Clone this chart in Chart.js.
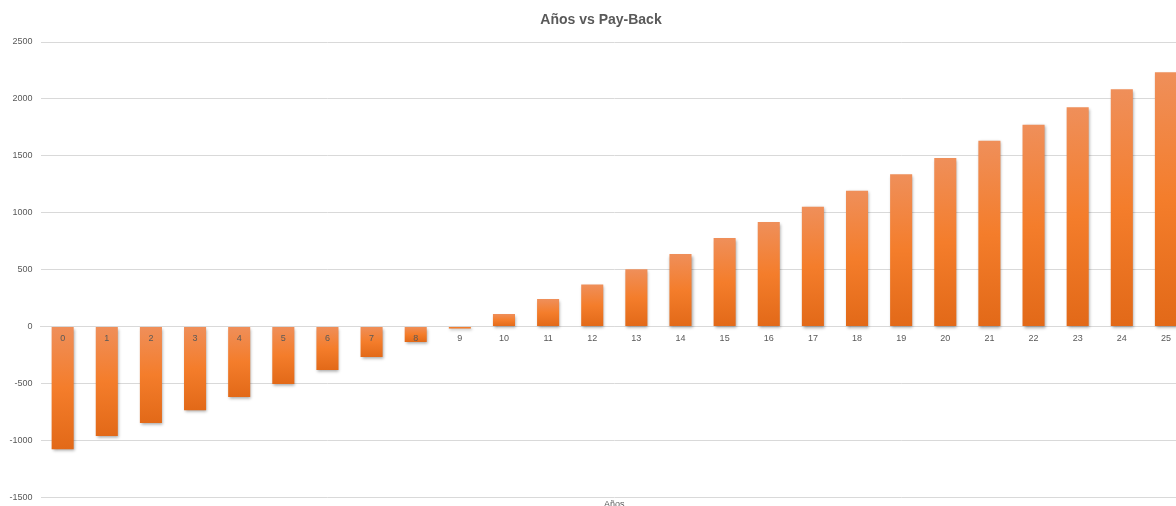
<!DOCTYPE html>
<html lang="es">
<head>
<meta charset="utf-8">
<title>Años vs Pay-Back</title>
<script src="https://cdn.jsdelivr.net/npm/chart.js@4/dist/chart.umd.min.js"></script>
<style>
  html, body { margin: 0; padding: 0; background: #fff; overflow: hidden; }
  #wrap { position: relative; width: 1202px; height: 516px; }
</style>
</head>
<body>
<div id="wrap"><canvas id="paybackChart"></canvas></div>
<script>
// ————— Data —————
const years   = ['0','1','2','3','4','5','6','7','8','9','10','11','12',
                 '13','14','15','16','17','18','19','20','21','22','23','24','25'];
const payback = [-1078, -963, -849, -735, -620, -506, -383, -269, -137, -17,
                 109, 241, 370, 502, 637, 777, 918, 1052, 1193, 1337,
                 1480, 1633, 1773, 1926, 2084, 2234];
const yTicks  = [-1500, -1000, -500, 0, 500, 1000, 1500, 2000, 2500];

// ————— Style —————
const textGrey = '#595959';
const gridGrey = '#d9d9d9';
const fontFam  = '"Liberation Sans", Arial, sans-serif';

// ————— Helpers —————
// vertical gradient per bar: light at the top edge, darker at the bottom
function barFill(ctx) {
  const chart = ctx.chart;
  if (!chart.chartArea || ctx.type !== 'data') return '#f47d2c';
  const y = chart.scales.y;
  const v = ctx.raw;
  const top = y.getPixelForValue(Math.max(v, 0));
  const bottom = y.getPixelForValue(Math.min(v, 0));
  if (bottom - top < 1) return '#f08040';
  const g = chart.ctx.createLinearGradient(0, top, 0, bottom);
  g.addColorStop(0, '#ef8f5a');
  g.addColorStop(0.5, '#f47d2b');
  g.addColorStop(1, '#e26918');
  return g;
}

// soft drop shadow under the bars
const barShadow = {
  id: 'barShadow',
  beforeDatasetsDraw(chart) {
    const c = chart.ctx;
    c.save();
    c.shadowColor = 'rgba(0,0,0,0.35)';
    c.shadowBlur = 3;
    c.shadowOffsetX = 1;
    c.shadowOffsetY = 1.5;
  },
  afterDatasetsDraw(chart) {
    chart.ctx.restore();
  }
};

// title box gets the same side margin as the right edge
const titleInset = {
  id: 'titleInset',
  afterLayout(chart) {
    if (chart.titleBlock) chart.titleBlock.left += 14;
  }
};

// ————— Chart —————
const ctx = document.getElementById('paybackChart');
new Chart(ctx, {
  type: 'bar',
  data: {
    labels: years,
    datasets: [{
      label: 'Pay-Back',
      data: payback,
      backgroundColor: barFill,
      borderWidth: 0,
      barPercentage: 0.5,
      categoryPercentage: 1
    }]
  },
  plugins: [barShadow, titleInset],
  options: {
    responsive: true,
    maintainAspectRatio: false,
    animation: false,
    layout: { padding: { left: 0, right: 14, top: 0, bottom: 0 } },
    plugins: {
      legend: { display: false },
      tooltip: { enabled: false },
      title: {
        display: true,
        text: 'Años vs Pay-Back',
        color: textGrey,
        font: { family: fontFam, size: 14, weight: 'bold' },
        padding: { top: 11.5, bottom: 13.7 }
      }
    },
    scales: {
      x: {
        position: { y: 0 },
        grid: { display: false, drawTicks: false },
        border: { display: true, color: gridGrey },
        ticks: {
          z: 1,
          color: textGrey,
          font: { family: fontFam, size: 9 },
          padding: 7,
          maxRotation: 0,
          autoSkip: false
        }
      },
      x2: {
        type: 'category',
        position: 'bottom',
        grid: { display: false, drawTicks: false },
        border: { display: false },
        ticks: { display: false },
        title: {
          display: true,
          text: 'Años',
          color: textGrey,
          font: { family: fontFam, size: 9 },
          padding: { top: 2, bottom: 6 }
        }
      },
      y: {
        min: -1500,
        max: 2500,
        afterBuildTicks: scale => { scale.ticks = yTicks.map(v => ({ value: v })); },
        afterFit: scale => { scale.width = 40.6; },
        grid: { color: gridGrey, drawTicks: false },
        border: { display: false },
        ticks: {
          color: textGrey,
          font: { family: fontFam, size: 9 },
          padding: 8,
          callback: v => String(v)
        }
      }
    }
  }
});
</script>
</body>
</html>
